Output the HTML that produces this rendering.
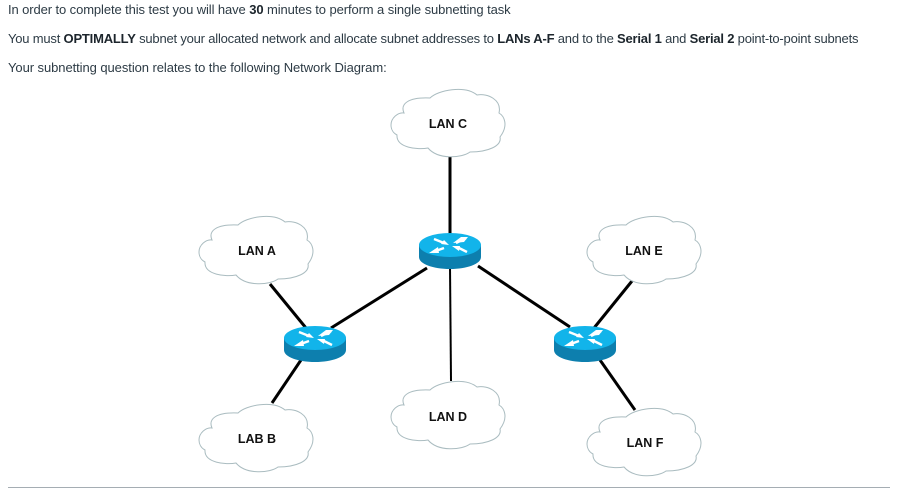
<!DOCTYPE html>
<html>
<head>
<meta charset="utf-8">
<style>
html,body{margin:0;padding:0;background:#fff}
body{width:900px;height:498px;position:relative;overflow:hidden;font-family:"Liberation Sans",sans-serif}
.t{position:absolute;left:8px;font-size:13px;line-height:16px;color:#2d3b45;white-space:nowrap}
.t b{color:#1c252c}
svg{position:absolute;left:0;top:0}
</style>
</head>
<body>
<div class="t" style="top:2px;letter-spacing:-.1px">In order to complete this test you will have <b>30</b> minutes to perform a single subnetting task</div>
<div class="t" style="top:31px;letter-spacing:-.2px">You must <b>OPTIMALLY</b> subnet your allocated network and allocate subnet addresses to <b>LANs A-F</b> and to the <b>Serial 1</b> and <b>Serial 2</b> point-to-point subnets</div>
<div class="t" style="top:60px;letter-spacing:-.07px">Your subnetting question relates to the following Network Diagram:</div>
<svg width="900" height="498" viewBox="0 0 900 498">
<defs>
<path id="c" d="M11 45C11 38 18 32 24 33C20 24 28 17 50 18C58 10 85 5 97 15C108 13 122 20 119 33C124 36 129 45 120 57C122 66 108 72 90 72C82 78 58 80 48 68C38 70 16 68 17 55C13 53 11 49 11 45Z" fill="#fff" stroke="#aabcc0" stroke-width="1"/>
<g id="r">
<path d="M-31 0V12C-31 19 -17 24 0 24C17 24 31 19 31 12V0Z" fill="#0d7fae"/>
<ellipse cx="0" cy="0" rx="31" ry="12" fill="#12b4ea"/>
<g stroke="#fff" stroke-width="2.4" fill="none">
<path d="M-16 -6L-6 -2"/>
<path d="M16 -7L6 -2"/>
<path d="M-17 7L-6 3"/>
<path d="M17 7L7 2"/>
</g>
<path d="M-1 0L-9 -1L-6 -5ZM3 -2L11 -8L18 -8L14 -3ZM-21 8L-12 2L-11 8ZM2 1L10 1L9 6Z" fill="#fff"/>
</g>
</defs>
<g stroke="#000" stroke-width="3" fill="none">
<path d="M450 157L450 234"/>
<path d="M450 266L451 381" stroke-width="2"/>
<path d="M427 268L331 328"/>
<path d="M478 266L570 327"/>
<path d="M270 284L306 328"/>
<path d="M301 360L272 403"/>
<path d="M632 281L594 328"/>
<path d="M600 360L635 410"/>
</g>
<use href="#c" x="380" y="80"/>
<use href="#c" x="188" y="207"/>
<use href="#c" x="576" y="207"/>
<use href="#c" x="188" y="395"/>
<use href="#c" x="380" y="372"/>
<use href="#c" x="576" y="399"/>
<use href="#r" x="450" y="245"/>
<use href="#r" x="315" y="338"/>
<use href="#r" x="585" y="338"/>
<g font-family="Liberation Sans, sans-serif" font-size="12.5" font-weight="bold" fill="#111" text-anchor="middle">
<text x="448" y="128">LAN C</text>
<text x="257" y="255">LAN A</text>
<text x="644" y="255">LAN E</text>
<text x="257" y="443">LAB B</text>
<text x="448" y="421">LAN D</text>
<text x="645" y="447">LAN F</text>
</g>
<rect x="8" y="487" width="882" height="1" fill="#a5adb3"/>
</svg>
</body>
</html>
